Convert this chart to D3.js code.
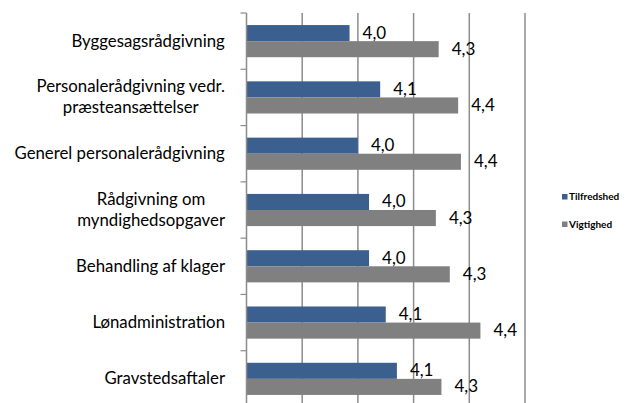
<!DOCTYPE html>
<meta charset="utf-8">
<style>
  body { margin: 0; background: #fff; }
  text { font-family: Lato, "Open Sans", sans-serif; fill: #000; }
</style>
<script src="https://d3js.org/d3.v7.min.js"></script>
<div id="chart"></div>
<script>
// categories (top to bottom), "\n" marks a line break in the label
var categories = [
  "Byggesagsrådgivning",
  "Personalerådgivning vedr.\npræsteansættelser",
  "Generel personalerådgivning",
  "Rådgivning om\nmyndighedsopgaver",
  "Behandling af klager",
  "Lønadministration",
  "Gravstedsaftaler"
];
var seriesNames = ["Tilfredshed", "Vigtighed"];
var tilfredshed = [3.97, 4.08, 4.00, 4.04, 4.04, 4.10, 4.14];
var vigtighed   = [4.29, 4.36, 4.37, 4.28, 4.33, 4.44, 4.30];
var gridValues  = [3.6, 3.8, 4.0, 4.2, 4.4, 4.6];

var colors = { "Tilfredshed": "#3b5f8e", "Vigtighed": "#808080" };

var width = 626, height = 403;
var svg = d3.select("#chart").append("svg")
  .attr("width", width)
  .attr("height", height);

var x = d3.scaleLinear().domain([3.6, 4.6]).range([246.5, 525]);
var y = d3.scaleBand().domain(categories).range([13, 407]);
var ySub = d3.scaleBand().domain(seriesNames).range([0, y.bandwidth()])
  .paddingOuter(0.75);

var fmt = function(v) { return d3.format(".1f")(v).replace(".", ","); };

// vertical gridlines
svg.append("g").selectAll("line")
  .data(gridValues.slice(1))
  .enter().append("line")
    .attr("x1", function(d) { return x(d); })
    .attr("x2", function(d) { return x(d); })
    .attr("y1", y.range()[0])
    .attr("y2", y.range()[1])
    .attr("stroke", "#8c8c8c")
    .attr("stroke-width", 1.5);

// bars
var data = categories.map(function(c, i) {
  return { cat: c, values: [
    { s: "Tilfredshed", v: tilfredshed[i] },
    { s: "Vigtighed", v: vigtighed[i] }
  ]};
});

var groups = svg.append("g").selectAll("g")
  .data(data)
  .enter().append("g")
    .attr("transform", function(d) { return "translate(0," + y(d.cat) + ")"; });

groups.selectAll("rect")
  .data(function(d) { return d.values; })
  .enter().append("rect")
    .attr("x", x(3.6))
    .attr("y", function(d) { return ySub(d.s); })
    .attr("width", function(d) { return x(d.v) - x(3.6); })
    .attr("height", ySub.bandwidth())
    .attr("fill", function(d) { return colors[d.s]; });

// value labels
groups.selectAll("text")
  .data(function(d) { return d.values; })
  .enter().append("text")
    .attr("x", function(d) { return x(d.v) + 13; })
    .attr("y", function(d) { return ySub(d.s) + ySub.bandwidth() / 2 + 5.5; })
    .attr("font-size", "17px")
    .text(function(d) { return fmt(d.v); });

// category axis
var axis = svg.append("g");
axis.append("line")
  .attr("x1", x(3.6)).attr("x2", x(3.6))
  .attr("y1", y.range()[0]).attr("y2", y.range()[1])
  .attr("stroke", "#8c8c8c").attr("stroke-width", 1.5);
axis.selectAll(".tick")
  .data(categories.concat(["end"]))
  .enter().append("line")
    .attr("x1", x(3.6) - 6).attr("x2", x(3.6))
    .attr("y1", function(d, i) { return y.range()[0] + i * y.step(); })
    .attr("y2", function(d, i) { return y.range()[0] + i * y.step(); })
    .attr("stroke", "#8c8c8c").attr("stroke-width", 1.2);

// category labels, multi-line centred, block right-aligned
var lineH = 21;
categories.forEach(function(c) {
  var lines = c.split("\n");
  var cy = y(c) + y.bandwidth() / 2;
  var t = axis.append("text")
    .attr("font-size", "16.8px")
    .attr("text-anchor", "middle");
  lines.forEach(function(l, j) {
    t.append("tspan")
      .attr("x", 0)
      .attr("y", cy + 5.5 + (j - (lines.length - 1) / 2) * lineH)
      .text(l);
  });
  var w = t.node().getBBox().width;
  t.selectAll("tspan").attr("x", 225 - w / 2);
});

// legend
var legend = svg.append("g").selectAll("g")
  .data(seriesNames)
  .enter().append("g")
    .attr("transform", function(d, i) { return "translate(562," + (194 + i * 27.5) + ")"; });
legend.append("rect")
  .attr("width", 5.5).attr("height", 5.5)
  .attr("fill", function(d) { return colors[d]; });
legend.append("text")
  .attr("x", 7)
  .attr("y", 6)
  .attr("font-size", "10px")
  .attr("font-weight", "bold")
  .text(function(d) { return d; });
</script>
